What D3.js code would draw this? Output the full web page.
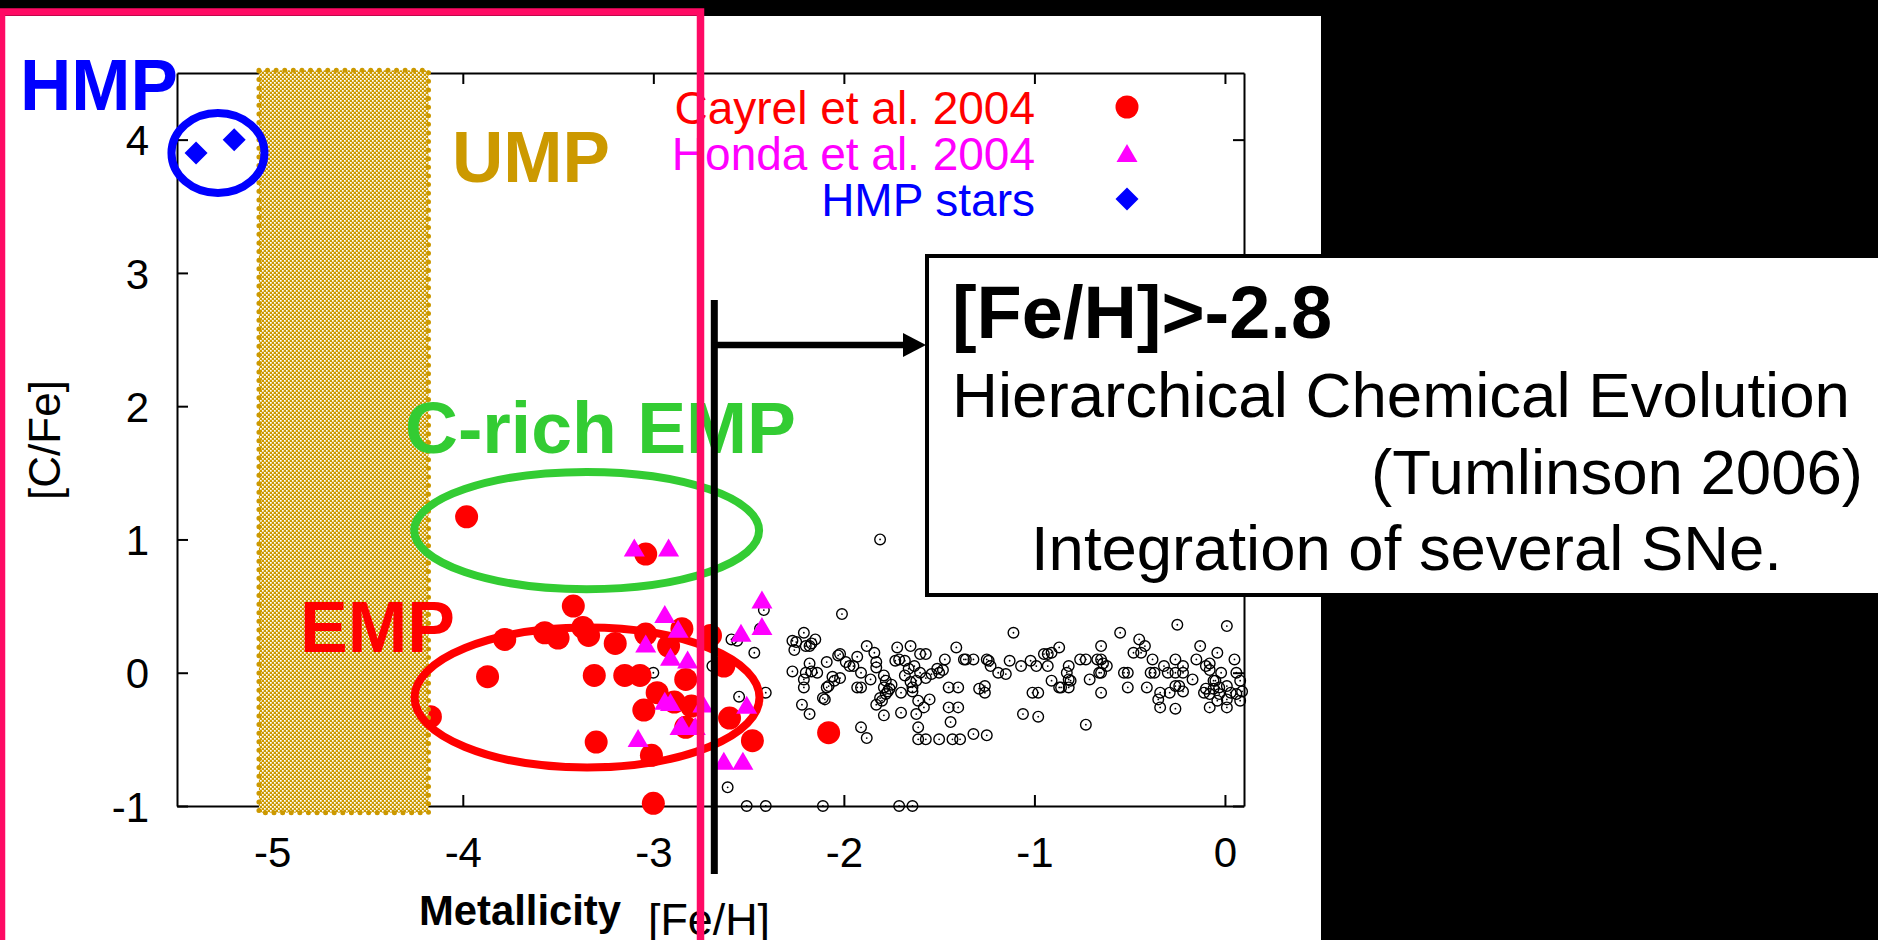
<!DOCTYPE html>
<html>
<head>
<meta charset="utf-8">
<script src="https://cdn.jsdelivr.net/npm/d3@7"></script>
<style>
  body { margin: 0; background: #000; overflow: hidden; }
  text { font-family: "Liberation Sans", Arial, Helvetica, sans-serif; }
</style>
</head>
<body>
<svg id="chart"></svg>
<script>
let svgWidth = 1878;
let svgHeight = 940;

// ---- data ----
let xTicks = [-5, -4, -3, -2, -1, 0];
let yTicks = [-1, 0, 1, 2, 3, 4];

// Cayrel et al. 2004 (red filled circles)
let cayrelFeH = [-3.42, -3.78, -3.57, -3.50, -3.37, -3.34, -3.20, -3.04, -2.85, -2.92,
                 -3.87, -3.31, -3.15, -3.07, -2.83, -2.98, -3.05, -2.89, -2.83, -3.30,
                 -3.01, -3.00, -4.17, -3.98, -3.04, -2.70, -2.63, -2.80, -2.60, -2.48, -2.08];
let cayrelCFe = [0.50, 0.25, 0.30, 0.26, 0.34, 0.28, 0.22, 0.29, 0.33, 0.20,
                 -0.03, -0.02, -0.02, -0.02, -0.05, -0.15, -0.28, -0.22, -0.41, -0.52,
                 -0.62, -0.98, -0.33, 1.17, 0.89, 0.28, 0.05, -0.25, -0.34, -0.51, -0.45];

// Honda et al. 2004 (magenta triangles)
let hondaFeH = [-2.94, -3.04, -2.87, -2.91, -2.94, -2.91, -2.85, -3.08, -2.82, -2.74,
                -2.86, -2.78, -2.43, -2.43, -2.54, -2.51, -2.63, -2.53, -3.10, -2.92];
let hondaCFe = [0.44, 0.22, 0.33, 0.12, -0.21, -0.22, -0.39, -0.49, 0.10, -0.23,
                -0.40, -0.40, 0.55, 0.35, 0.30, -0.24, -0.66, -0.66, 0.94, 0.94];

// HMP stars (blue diamonds)
let hmpFeH = [-5.40, -5.20];
let hmpCFe = [3.90, 4.00];

// field stars (open circles), [Fe/H], [C/Fe]
let fieldStars = [
  [-3.00, 0.00], [-2.69, 0.05], [-2.42, 0.47], [-2.44, 0.33], [-2.59, 0.25], [-2.56, 0.24],
  [-2.47, 0.15], [-2.41, -0.15], [-2.55, -0.18], [-2.61, -0.86], [-2.51, -1.00], [-2.41, -1.00],
  [-2.11, -1.00], [-2.27, 0.24], [-2.25, 0.23], [-2.21, 0.30], [-2.15, 0.25], [-2.20, 0.20],
  [-2.18, 0.20], [-2.17, 0.22], [-2.26, 0.17], [-2.09, 0.08], [-2.03, 0.13], [-2.27, 0.01],
  [-2.18, 0.07], [-2.20, 0.00], [-2.17, 0.01], [-2.14, 0.00], [-2.21, -0.05], [-2.21, -0.11],
  [-2.06, -0.03], [-2.05, -0.06], [-2.02, -0.04], [-2.09, -0.11], [-2.08, -0.10], [-2.10, -0.20],
  [-2.11, -0.19], [-2.22, -0.24], [-2.18, -0.31],
  [-2.01, 0.44], [-1.81, 1.00], [-1.88, 0.20], [-1.72, 0.19], [-1.65, 0.20], [-1.41, 0.19],
  [-2.02, 0.14], [-1.93, 0.12], [-1.84, 0.15], [-1.99, 0.08], [-1.97, 0.05], [-1.95, 0.05],
  [-1.91, 0.00], [-1.83, 0.08], [-1.83, 0.04], [-1.86, -0.05], [-1.91, -0.11], [-1.93, -0.11],
  [-1.79, -0.02], [-1.78, -0.06], [-1.79, -0.11], [-1.76, -0.12], [-1.78, -0.16], [-1.81, -0.19],
  [-1.83, -0.24], [-1.80, -0.21], [-1.77, -0.14], [-1.75, -0.09],
  [-1.73, 0.09], [-1.71, 0.10], [-1.68, 0.09], [-1.66, 0.03], [-1.68, -0.02], [-1.65, -0.07],
  [-1.64, -0.11], [-1.64, -0.14], [-1.62, -0.06], [-1.70, -0.15], [-1.63, 0.05], [-1.60, 0.00],
  [-1.60, 0.14], [-1.57, 0.14], [-1.55, -0.20], [-1.61, -0.21], [-1.58, -0.26], [-1.62, -0.31],
  [-1.70, -0.30], [-1.79, -0.32], [-1.57, -0.04], [-1.54, -0.01], [-1.51, 0.03], [-1.50, 0.00],
  [-1.48, 0.02], [-1.47, 0.10], [-1.45, -0.11], [-1.40, -0.11], [-1.45, -0.26], [-1.40, -0.26],
  [-1.44, -0.37], [-1.61, -0.41], [-1.91, -0.41], [-1.88, -0.49],
  [-1.61, -0.50], [-1.57, -0.50], [-1.50, -0.50], [-1.43, -0.50], [-1.39, -0.50], [-1.32, -0.46],
  [-1.25, -0.47], [-1.71, -1.00], [-1.64, -1.00],
  [-1.37, 0.10], [-1.36, 0.10], [-1.32, 0.10], [-1.25, 0.10], [-1.24, 0.09], [-1.23, 0.05],
  [-1.19, 0.00], [-1.15, -0.01], [-1.13, 0.09], [-1.07, 0.05], [-1.29, -0.12], [-1.26, -0.10],
  [-1.26, -0.15], [-1.11, 0.30],
  [-1.02, 0.09], [-0.99, 0.05], [-0.95, 0.14], [-0.93, 0.14], [-0.91, 0.15], [-0.93, 0.05],
  [-0.87, 0.19], [-0.91, -0.06], [-0.87, -0.11], [-1.01, -0.15], [-0.98, -0.15], [-1.06, -0.31],
  [-0.98, -0.33],
  [-0.55, 0.30], [-0.25, 0.36], [0.01, 0.35], [-0.65, 0.20], [-0.45, 0.25], [-0.42, 0.20],
  [-0.48, 0.15], [-0.44, 0.15], [-0.13, 0.20], [-0.04, 0.15],
  [-0.82, 0.05], [-0.83, 0.00], [-0.82, -0.05], [-0.81, -0.06], [-0.86, -0.11], [-0.82, -0.11],
  [-0.76, 0.10], [-0.73, 0.10], [-0.71, -0.05], [-0.67, 0.10], [-0.65, 0.10], [-0.64, 0.07],
  [-0.62, 0.05], [-0.66, 0.00], [-0.65, 0.00], [-0.65, -0.15], [-0.73, -0.39], [-0.53, 0.00],
  [-0.51, 0.00], [-0.51, -0.11], [-0.41, -0.11],
  [-0.38, 0.10], [-0.39, 0.00], [-0.37, 0.00], [-0.32, 0.05], [-0.30, 0.00], [-0.26, 0.10],
  [-0.26, 0.00], [-0.22, 0.05], [-0.22, 0.00], [-0.17, -0.05], [-0.15, 0.10], [-0.24, -0.10],
  [-0.22, -0.14], [-0.26, -0.10], [-0.34, -0.15], [-0.35, -0.20], [-0.34, -0.26], [-0.29, -0.15],
  [-0.26, -0.27],
  [-0.10, 0.05], [-0.08, 0.07], [-0.08, 0.02], [-0.02, 0.00], [-0.06, -0.06], [-0.10, -0.12],
  [-0.08, -0.16], [-0.06, -0.12], [-0.08, -0.26], [-0.03, -0.11], [0.01, -0.10], [0.01, -0.20],
  [0.01, -0.26], [0.05, 0.10], [0.06, 0.00], [0.08, -0.06], [0.06, -0.16], [0.08, -0.21],
  [0.09, -0.14], [-0.04, -0.21], [0.03, -0.15], [-0.11, -0.15], [-0.05, -0.06], [-0.03, -0.16]
];

let legendNames = ["Cayrel et al. 2004", "Honda et al. 2004", "HMP stars"];
let legendColors = ["#ff0000", "#ff00ff", "#0000ff"];

let umpFeH = [-5.07, -4.18];     // UMP shaded band
let umpCFe = [-1.05, 4.52];
let cutFeH = -2.68;               // vertical divider

// ---- svg ----
let svg = d3.select("#chart")
  .attr("width", svgWidth)
  .attr("height", svgHeight);

let defs = svg.append("defs");
let pat = defs.append("pattern")
  .attr("id", "checker")
  .attr("width", 4).attr("height", 4)
  .attr("patternUnits", "userSpaceOnUse");
pat.append("rect").attr("width", 4).attr("height", 4).attr("fill", "#cc9900");
pat.append("rect").attr("x", 0).attr("y", 0).attr("width", 1.7).attr("height", 1.7).attr("fill", "#fff");
pat.append("rect").attr("x", 2).attr("y", 2).attr("width", 1.7).attr("height", 1.7).attr("fill", "#fff");

// white slide area
svg.append("rect")
  .attr("x", 0).attr("y", 16)
  .attr("width", 1321).attr("height", svgHeight - 16)
  .attr("fill", "#fff");

let x = d3.scaleLinear().domain([-5.5, 0.1]).range([177, 1244]);
let y = d3.scaleLinear().domain([-1, 4.5]).range([806, 73]);

// axes (gnuplot style, inward ticks, mirrored)
function styleAxis(g) {
  g.select(".domain").attr("stroke", "#000").attr("stroke-width", 2);
  g.selectAll(".tick line").attr("stroke", "#000").attr("stroke-width", 2);
  g.selectAll(".tick text").attr("fill", "#000").attr("font-size", 42)
    .attr("font-family", "Liberation Sans, Arial, sans-serif");
}

svg.append("g")
  .attr("transform", `translate(0, ${y(-1)})`)
  .call(d3.axisBottom(x).tickValues(xTicks).tickSize(-11).tickSizeOuter(0)
    .tickFormat(d => String(d)))
  .call(styleAxis)
  .call(g => g.selectAll(".tick text").attr("y", 61).attr("dy", null));

svg.append("g")
  .attr("transform", `translate(0, ${y(4.5)})`)
  .call(d3.axisTop(x).tickValues(xTicks).tickSize(-11).tickSizeOuter(0).tickFormat(""))
  .call(styleAxis);

svg.append("g")
  .attr("transform", `translate(${x(-5.5)}, 0)`)
  .call(d3.axisLeft(y).tickValues(yTicks).tickSize(-11).tickSizeOuter(0)
    .tickFormat(d => String(d)))
  .call(styleAxis)
  .call(g => g.selectAll(".tick text").attr("x", -28).attr("dy", "0.36em"));

svg.append("g")
  .attr("transform", `translate(${x(0.1)}, 0)`)
  .call(d3.axisRight(y).tickValues(yTicks).tickSize(-11).tickSizeOuter(0).tickFormat(""))
  .call(styleAxis);

// field stars: open circle with a centre dot
let field = svg.append("g");
field.selectAll("circle.ring")
  .data(fieldStars)
  .enter()
  .append("circle")
  .attr("class", "ring")
  .attr("cx", d => x(d[0]))
  .attr("cy", d => y(d[1]))
  .attr("r", 5.3)
  .attr("fill", "none")
  .attr("stroke", "#000")
  .attr("stroke-width", 1.4);
field.selectAll("circle.dot")
  .data(fieldStars)
  .enter()
  .append("circle")
  .attr("class", "dot")
  .attr("cx", d => x(d[0]))
  .attr("cy", d => y(d[1]))
  .attr("r", 0.9)
  .attr("fill", "#000");

// Cayrel
svg.append("g").selectAll("circle")
  .data(cayrelFeH)
  .enter()
  .append("circle")
  .attr("cx", d => x(d))
  .attr("cy", (d, i) => y(cayrelCFe[i]))
  .attr("r", 11.5)
  .attr("fill", "#ff0000");

// UMP band
svg.append("rect")
  .attr("x", x(umpFeH[0]))
  .attr("y", y(umpCFe[1]))
  .attr("width", x(umpFeH[1]) - x(umpFeH[0]))
  .attr("height", y(umpCFe[0]) - y(umpCFe[1]))
  .attr("fill", "url(#checker)")
  .attr("stroke", "#cc9900")
  .attr("stroke-width", 5)
  .attr("stroke-linecap", "round")
  .attr("stroke-dasharray", "0 8.6");

// region ellipses (data units: centre, half-widths)
let regions = [
  { cx: -3.35, cy: 1.067, rx: 0.905, ry: 0.44, color: "#33cc33" },
  { cx: -3.348, cy: -0.186, rx: 0.905, ry: 0.525, color: "#ff0000" },
  { cx: -5.285, cy: 3.90, rx: 0.244, ry: 0.30, color: "#0000ff" }
];
svg.append("g").selectAll("ellipse")
  .data(regions)
  .enter()
  .append("ellipse")
  .attr("cx", d => x(d.cx))
  .attr("cy", d => y(d.cy))
  .attr("rx", d => x(d.rx) - x(0))
  .attr("ry", d => y(0) - y(d.ry))
  .attr("fill", "none")
  .attr("stroke", d => d.color)
  .attr("stroke-width", 8);

// Honda triangles
let triPath = "M0,-9L10.5,9L-10.5,9Z";
svg.append("g").selectAll("path")
  .data(hondaFeH)
  .enter()
  .append("path")
  .attr("d", triPath)
  .attr("transform", (d, i) => `translate(${x(d)}, ${y(hondaCFe[i])})`)
  .attr("fill", "#ff00ff");

// HMP diamonds
let diaPath = "M0,-11.5L11.5,0L0,11.5L-11.5,0Z";
svg.append("g").selectAll("path")
  .data(hmpFeH)
  .enter()
  .append("path")
  .attr("d", diaPath)
  .attr("transform", (d, i) => `translate(${x(d)}, ${y(hmpCFe[i])})`)
  .attr("fill", "#0000ff");

// region labels
let labels = [
  { t: "HMP", x: 20, y: 110, len: 158, color: "#0000ff" },
  { t: "UMP", x: 452, y: 182, len: 158, color: "#cc9900" },
  { t: "C-rich EMP", x: 405, y: 453, len: 391, color: "#33cc33" },
  { t: "EMP", x: 300, y: 652, len: 155, color: "#ff0000" }
];
svg.append("g").selectAll("text")
  .data(labels)
  .enter()
  .append("text")
  .attr("x", d => d.x)
  .attr("y", d => d.y)
  .attr("textLength", d => d.len)
  .attr("lengthAdjust", "spacingAndGlyphs")
  .attr("font-size", 73)
  .attr("font-weight", "bold")
  .attr("fill", d => d.color)
  .text(d => d.t);

// legend
let legend = svg.append("g");
legendNames.forEach(function(name, i) {
  let ly = 107 + i * 46;
  legend.append("text")
    .attr("x", 1035)
    .attr("y", ly + 16.5)
    .attr("text-anchor", "end")
    .attr("font-size", 46)
    .attr("fill", legendColors[i])
    .text(name);
  let sym = i === 0 ? null : (i === 1 ? triPath : diaPath);
  if (sym === null) {
    legend.append("circle").attr("cx", 1127).attr("cy", ly).attr("r", 11.5).attr("fill", legendColors[i]);
  } else {
    legend.append("path").attr("d", sym)
      .attr("transform", `translate(1127, ${ly})`)
      .attr("fill", legendColors[i]);
  }
});

// axis titles
svg.append("text")
  .attr("transform", "translate(60, 440) rotate(-90)")
  .attr("text-anchor", "middle")
  .attr("font-size", 44)
  .attr("fill", "#000")
  .text("[C/Fe]");

svg.append("text")
  .attr("x", 419).attr("y", 925)
  .attr("font-size", 42)
  .attr("font-weight", "bold")
  .attr("textLength", 202)
  .attr("lengthAdjust", "spacingAndGlyphs")
  .text("Metallicity");

svg.append("text")
  .attr("x", 648).attr("y", 935)
  .attr("font-size", 45)
  .attr("textLength", 122)
  .attr("lengthAdjust", "spacingAndGlyphs")
  .text("[Fe/H]");

// divider at [Fe/H] ~ -2.8 and arrow to the box
svg.append("line")
  .attr("x1", x(cutFeH)).attr("x2", x(cutFeH))
  .attr("y1", 300).attr("y2", 874)
  .attr("stroke", "#000")
  .attr("stroke-width", 7);

svg.append("line")
  .attr("x1", x(cutFeH)).attr("x2", 905)
  .attr("y1", 345).attr("y2", 345)
  .attr("stroke", "#000")
  .attr("stroke-width", 6.5);
svg.append("path")
  .attr("d", "M903,333L926,345L903,357Z")
  .attr("fill", "#000");

// callout box
svg.append("rect")
  .attr("x", 927).attr("y", 256)
  .attr("width", 1100).attr("height", 339)
  .attr("fill", "#fff")
  .attr("stroke", "#000")
  .attr("stroke-width", 4);

let callout = [
  { t: "[Fe/H]>-2.8", x: 952, y: 338, len: 380, size: 74, bold: true },
  { t: "Hierarchical Chemical Evolution", x: 952, y: 417, len: 898, size: 63, bold: false },
  { t: "(Tumlinson 2006)", x: 1371, y: 494, len: 492, size: 63, bold: false },
  { t: "Integration of several SNe.", x: 1031, y: 570, len: 751, size: 63, bold: false }
];
svg.append("g").selectAll("text")
  .data(callout)
  .enter()
  .append("text")
  .attr("x", d => d.x)
  .attr("y", d => d.y)
  .attr("font-size", d => d.size)
  .attr("font-weight", d => d.bold ? "bold" : "normal")
  .attr("textLength", d => d.len)
  .attr("lengthAdjust", "spacingAndGlyphs")
  .attr("fill", "#000")
  .text(d => d.t);

// pink highlight frame
svg.append("rect")
  .attr("x", 1.5).attr("y", 12)
  .attr("width", 699).attr("height", 1000)
  .attr("fill", "none")
  .attr("stroke", "#ff0a64")
  .attr("stroke-width", 7.5);
</script>
</body>
</html>
